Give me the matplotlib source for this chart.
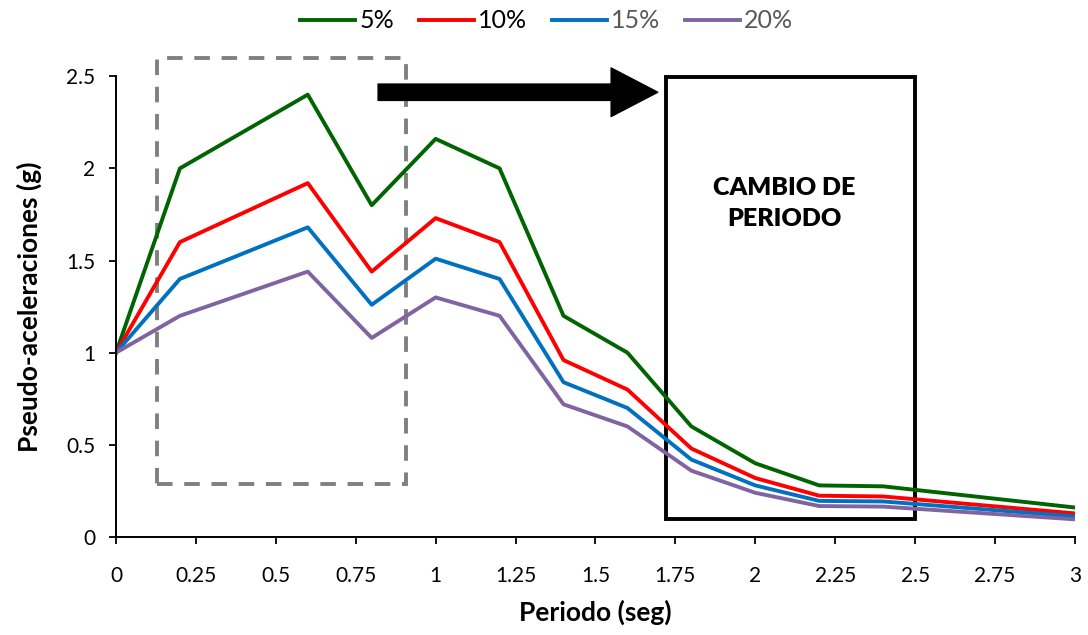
import numpy as np
import matplotlib
matplotlib.use("Agg")
import matplotlib.pyplot as plt
from matplotlib.patches import Rectangle

plt.rcParams['font.family'] = ['Lato', 'DejaVu Sans']

# datos
periodo = [0, 0.2, 0.6, 0.8, 1.0, 1.2, 1.4, 1.6, 1.8, 2.0, 2.2, 2.4, 3.0]
sa_5 = [1.0, 2.0, 2.4, 1.8, 2.16, 2.0, 1.2, 1.0, 0.6, 0.4, 0.28, 0.275, 0.16]
sa_10 = [1.0, 1.6, 1.92, 1.44, 1.73, 1.6, 0.96, 0.8, 0.48, 0.32, 0.224, 0.22, 0.128]
sa_15 = [1.0, 1.4, 1.68, 1.26, 1.51, 1.4, 0.84, 0.7, 0.42, 0.28, 0.196, 0.193, 0.112]
sa_20 = [1.0, 1.2, 1.44, 1.08, 1.30, 1.2, 0.72, 0.6, 0.36, 0.24, 0.168, 0.165, 0.096]
etiquetas = ['5%', '10%', '15%', '20%']
colores = ['#006400', '#FF0000', '#0070C0', '#8064A2']

fig = plt.figure(figsize=(10.88, 6.35), dpi=100)
ax = fig.add_axes([0.1066, 0.1543, 0.8814, 0.7257])

for serie, lab, c in zip([sa_5, sa_10, sa_15, sa_20], etiquetas, colores):
    ax.plot(periodo, serie, color=c, lw=2.8, label=lab)

ax.set_xlim(0, 3)
ax.set_ylim(0, 2.5)
ax.set_xticks(np.arange(0, 3.01, 0.25))
ax.set_xticklabels(['0', '0.25', '0.5', '0.75', '1', '1.25', '1.5', '1.75', '2',
                    '2.25', '2.5', '2.75', '3'])
ax.set_yticks(np.arange(0, 2.51, 0.5))
ax.set_yticklabels(['0', '0.5', '1', '1.5', '2', '2.5'])
ax.tick_params(direction='out', length=5, width=1.3, labelsize=15)
ax.tick_params(axis='x', pad=16)
ax.tick_params(axis='y', pad=10)
for s in ['top', 'right']:
    ax.spines[s].set_visible(False)
for s in ['left', 'bottom']:
    ax.spines[s].set_linewidth(1.4)

ax.set_xlabel('Periodo (seg)', fontsize=19, fontweight='bold', labelpad=10)
ax.set_ylabel('Pseudo-aceleraciones (g)', fontsize=19, fontweight='bold', labelpad=17)

# recuadro discontinuo
ax.add_patch(Rectangle((0.128, 0.287), 0.779, 2.31, fill=False, ec='#808080',
                       lw=2.8, ls=(0, (4, 3)), clip_on=False))
# recuadro cambio de periodo
ax.add_patch(Rectangle((1.72, 0.098), 0.78, 2.395, fill=False, ec='black',
                       lw=2.8, clip_on=False))
ax.text(2.09, 1.81, 'CAMBIO DE\nPERIODO', ha='center', va='center',
        fontsize=18, fontweight='heavy', linespacing=1.5)

# flecha
ax.annotate('', xy=(1.695, 2.413), xytext=(0.82, 2.413),
            arrowprops=dict(arrowstyle='simple,head_length=1.2,head_width=1.25,tail_width=0.42',
                            fc='black', ec='black', shrinkA=0, shrinkB=0,
                            mutation_scale=28), annotation_clip=False)

leg = ax.legend(loc='center', bbox_to_anchor=(0.449, 1.12), ncol=4,
                frameon=False, fontsize=18, handlelength=2.2, columnspacing=1.0,
                handletextpad=0.15)
for t, c in zip(leg.get_texts(), ['black', 'black', '#595959', '#595959']):
    t.set_color(c)

fig.savefig('out.png', dpi=100)
